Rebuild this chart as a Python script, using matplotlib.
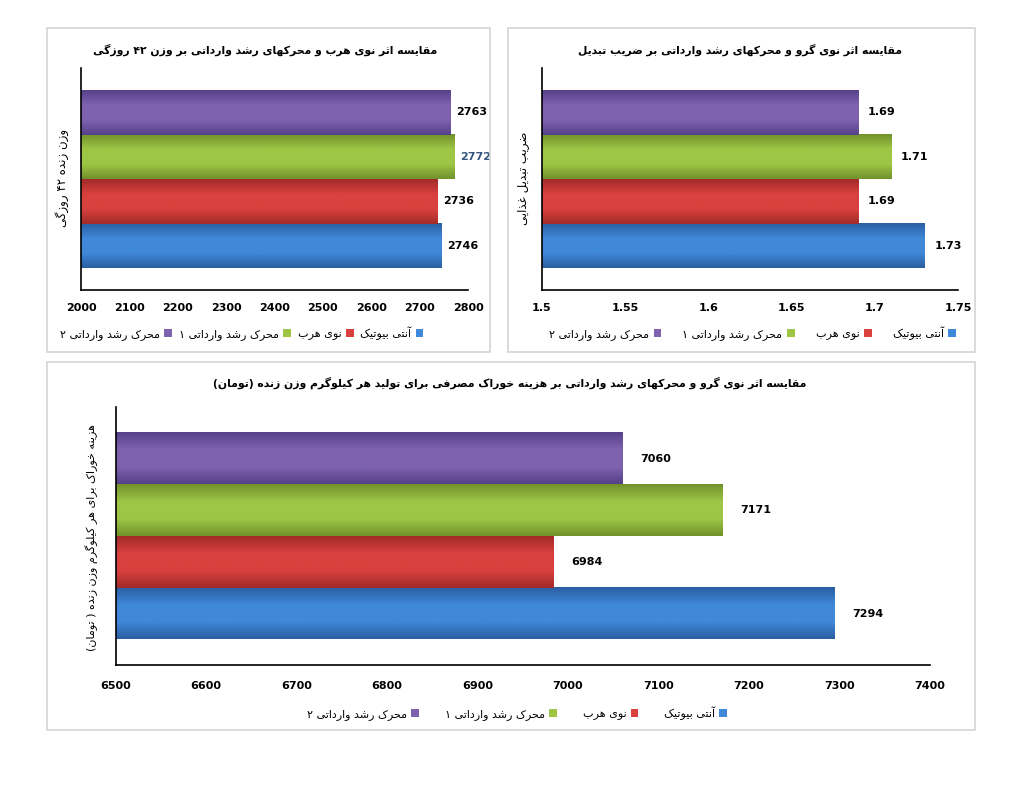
import re
import unicodedata
import numpy as np
import matplotlib
matplotlib.use('Agg')
import matplotlib.pyplot as plt
from matplotlib.patches import Rectangle, Patch
from matplotlib.colors import LinearSegmentedColormap

# data
series = ['آنتی بیوتیک', 'نوی هرب', 'محرک رشد وارداتی ۱', 'محرک رشد وارداتی ۲']
weight = [2746, 2736, 2772, 2763]
fcr = [1.73, 1.69, 1.71, 1.69]
cost = [7294, 6984, 7171, 7060]

title1 = 'مقایسه اثر نوی هرب و محرکهای رشد وارداتی بر وزن ۴۲ روزگی'
title2 = 'مقایسه اثر نوی گرو و محرکهای رشد وارداتی بر ضریب تبدیل'
title3 = 'مقایسه اثر نوی گرو و محرکهای رشد وارداتی بر هزینه خوراک مصرفی برای تولید هر کیلوگرم وزن زنده (تومان)'
ylab1 = 'وزن زنده ۴۲ روزگی'
ylab2 = 'ضریب تبدیل غذایی'
ylab3 = 'هزینه خوراک برای هر کیلوگرم وزن زنده ( تومان)'

ticks1 = [2000, 2100, 2200, 2300, 2400, 2500, 2600, 2700, 2800]
ticks2 = [1.5, 1.55, 1.6, 1.65, 1.7, 1.75]
ticks3 = [6500, 6600, 6700, 6800, 6900, 7000, 7100, 7200, 7300, 7400]

# light / dark shades for the excel-like gradient
shades = [('#4088d8', '#2a5fa3'), ('#d9413f', '#a32b29'),
          ('#9ec646', '#72922c'), ('#7e62b0', '#574289')]

# build presentation-form table for arabic/persian shaping
FORMS = {}
for cp in list(range(0xFB50, 0xFE00)) + list(range(0xFE70, 0xFF00)):
    d = unicodedata.decomposition(chr(cp)).split()
    if len(d) == 2 and d[0] in ('<isolated>', '<final>', '<initial>', '<medial>'):
        FORMS.setdefault((chr(int(d[1], 16)), d[0][1:-1]), chr(cp))


def joins_next(c):
    return (c, 'initial') in FORMS


def joins_prev(c):
    return (c, 'final') in FORMS


def fa(s):
    out = []
    n = len(s)
    for i, c in enumerate(s):
        p = i > 0 and joins_next(s[i - 1]) and joins_prev(c)
        nx = i < n - 1 and joins_next(c) and joins_prev(s[i + 1])
        form = 'medial' if p and nx else 'final' if p else 'initial' if nx else 'isolated'
        out.append(FORMS.get((c, form), FORMS.get((c, 'isolated'), c)))
    rev = ''.join(out)[::-1]
    rev = re.sub(r'[0-9\u06F0-\u06F9]+', lambda m: m.group(0)[::-1], rev)
    return rev.translate(str.maketrans('()', ')('))


plt.rcParams['font.family'] = ['DejaVu Sans']

fig = plt.figure(figsize=(10.24, 7.91), dpi=100)

# panel frames
for r in [(0.0459, 0.555, 0.4326, 0.4096), (0.496, 0.555, 0.456, 0.4096),
          (0.0459, 0.0771, 0.906, 0.4652)]:
    fig.add_artist(Rectangle(r[:2], r[2], r[3], transform=fig.transFigure,
                             fill=False, edgecolor='#d4d4d4', lw=1.2))


def draw(ax, vals, ticks, fmt, offset, pad, hl=None):
    y = np.arange(len(vals))
    x0 = ticks[0]
    ax.barh(y, [v - x0 for v in vals], left=x0, height=1.0, color='none')
    for i in range(len(vals)):
        light, dark = shades[i]
        cm = LinearSegmentedColormap.from_list('g', [dark, light, light, dark])
        grad = np.linspace(0, 1, 64).reshape(-1, 1)
        ax.imshow(grad, extent=[x0, vals[i], i - 0.5, i + 0.5], aspect='auto',
                  cmap=cm, origin='upper', zorder=2)
        col = '#34557f' if i == hl else 'black'
        ax.annotate(fmt.format(vals[i]), (vals[i], i), xytext=(offset, 0),
                    textcoords='offset points', va='center', ha='left',
                    fontsize=8, fontweight='bold', color=col)
    ax.set_xlim(ticks[0], ticks[-1])
    ax.set_ylim(-1, len(vals))
    ax.set_xticks(ticks)
    ax.set_xticklabels(['{:g}'.format(t) for t in ticks], fontsize=8, fontweight='bold')
    ax.set_yticks([])
    ax.tick_params(axis='x', length=0, pad=pad)
    ax.spines['top'].set_visible(False)
    ax.spines['right'].set_visible(False)
    ax.spines['left'].set_linewidth(1.2)
    ax.spines['bottom'].set_linewidth(1.2)


ax1 = fig.add_axes([0.0791, 0.633, 0.378, 0.281])
draw(ax1, weight, ticks1, '{:d}', 4, 9, hl=2)
ax2 = fig.add_axes([0.529, 0.633, 0.4065, 0.281])
draw(ax2, fcr, ticks2, '{:.2f}', 7, 9)
ax3 = fig.add_axes([0.113, 0.159, 0.795, 0.3266])
draw(ax3, cost, ticks3, '{:d}', 13, 11)

fig.text(0.259, 0.937, fa(title1), ha='center', va='center', fontsize=7.8, fontweight='bold')
fig.text(0.7227, 0.937, fa(title2), ha='center', va='center', fontsize=7.8, fontweight='bold')
fig.text(0.498, 0.516, fa(title3), ha='center', va='center', fontsize=7.8, fontweight='bold')

fig.text(0.0605, 0.775, fa(ylab1), rotation=90, ha='center', va='center', fontsize=8.5)
fig.text(0.511, 0.775, fa(ylab2), rotation=90, ha='center', va='center', fontsize=8.5)
fig.text(0.0898, 0.321, fa(ylab3), rotation=90, ha='center', va='center', fontsize=8)

handles = [Patch(facecolor=shades[i][0], edgecolor='none') for i in [3, 2, 1, 0]]
labels = [fa(series[i]) for i in [3, 2, 1, 0]]
for xy, cs in [((0.236, 0.579), 0.6), ((0.735, 0.579), 1.9), ((0.505, 0.0986), 2.3)]:
    fig.legend(handles, labels, loc='center', bbox_to_anchor=xy, ncol=4,
               frameon=False, markerfirst=False, fontsize=8, handlelength=0.7,
               handleheight=0.7, handletextpad=0.4, columnspacing=cs)

fig.savefig('out.png', dpi=100)
